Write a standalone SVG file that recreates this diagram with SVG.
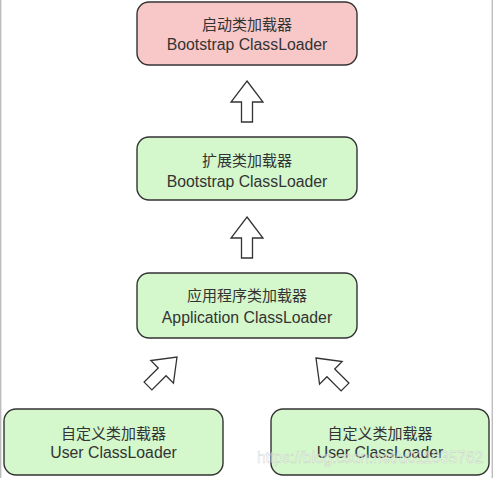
<svg xmlns="http://www.w3.org/2000/svg" width="493" height="478" viewBox="0 0 493 478">
<style>
.box{stroke:#333;stroke-width:1.4}
.pink{fill:#f8c8c8}
.green{fill:#d4f7cc}
.zh{font-family:"Noto Sans CJK SC","Liberation Sans",sans-serif;font-size:15px;fill:#333;text-anchor:middle}
.en{font-family:"Liberation Sans","Noto Sans",sans-serif;font-size:15.8px;fill:#333;text-anchor:middle}
.arrow{fill:#fff;stroke:#333;stroke-width:1.3;stroke-linejoin:miter}
.wm{font-family:"Liberation Sans",sans-serif;font-size:17px;fill:#fff;fill-opacity:0.5;stroke:#bbb;stroke-width:0.5;stroke-opacity:0.7}
</style>
<defs>
<polygon id="up" points="0,0 16,21 5.5,21 5.5,41 -5.5,41 -5.5,21 -16,21"/>
</defs>
<rect x="0" y="0" width="493" height="478" fill="#fff"/>
<line x1="0.7" y1="0" x2="0.7" y2="478" stroke="#bdbdbd" stroke-width="1.4"/>
<line x1="492.3" y1="0" x2="492.3" y2="478" stroke="#bdbdbd" stroke-width="1.4"/>
<g id="connectors">
<use href="#up" class="arrow" transform="translate(247,81)"/>
<use href="#up" class="arrow" transform="translate(247,217)"/>
<use href="#up" class="arrow" transform="translate(177,357) rotate(45)"/>
<use href="#up" class="arrow" transform="translate(316,358) rotate(-45)"/>
</g>
<g id="bootstrap">
<rect class="box pink" x="137" y="2" width="220" height="63" rx="12"/>
<text class="zh" x="247" y="30">启动类加载器</text>
<text class="en" x="247" y="50">Bootstrap ClassLoader</text>
</g>
<g id="extension">
<rect class="box green" x="137" y="137" width="220" height="63" rx="12"/>
<text class="zh" x="247" y="166">扩展类加载器</text>
<text class="en" x="247" y="186.5">Bootstrap ClassLoader</text>
</g>
<g id="application">
<rect class="box green" x="137" y="273" width="220" height="65" rx="12"/>
<text class="zh" x="247" y="301">应用程序类加载器</text>
<text class="en" x="247" y="322.5">Application ClassLoader</text>
</g>
<g id="user1">
<rect class="box green" x="4" y="409" width="219" height="66" rx="12"/>
<text class="zh" x="113.5" y="438.5">自定义类加载器</text>
<text class="en" x="113.5" y="458">User ClassLoader</text>
</g>
<g id="user2">
<rect class="box green" x="271" y="409" width="218" height="66" rx="12"/>
<text class="zh" x="380" y="438.5">自定义类加载器</text>
<text class="en" x="380" y="458">User ClassLoader</text>
</g>
<text class="wm" x="257" y="463" textLength="226" lengthAdjust="spacingAndGlyphs">https://blog.csdn.net/u011035762</text>
</svg>
